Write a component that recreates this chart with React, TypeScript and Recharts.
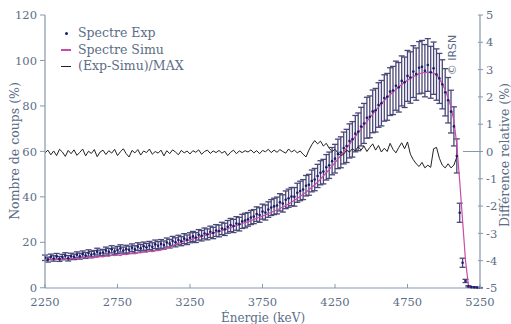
import React from "react";
import { ComposedChart, Line, XAxis, YAxis, ErrorBar } from "recharts";

// grille en énergie : 2250 keV, pas de 20 keV
const E_START = 2250;
const E_STEP = 20;

// spectre expérimental (%)
const EXP = [
  13.2, 12.4, 13.6, 12.9, 13.8, 12.7, 13.5, 14.1, 13.0, 13.9,
  13.6, 14.5, 13.9, 14.8, 14.2, 15.3, 14.6, 15.0, 15.9, 15.2,
  15.5, 16.4, 15.8, 16.9, 16.0, 16.6, 17.3, 16.4, 17.0, 16.7,
  17.6, 16.9, 18.1, 17.4, 18.3, 17.8, 18.6, 18.0, 19.1, 18.5,
  19.3, 18.8, 19.9, 19.4, 20.6, 20.0, 21.0, 20.5, 21.6, 21.1,
  22.0, 22.6, 22.1, 23.3, 22.9, 23.9, 23.5, 24.6, 24.1, 25.2,
  25.0, 26.1, 25.7, 26.8, 27.6, 27.2, 28.3, 28.0, 29.2, 29.6,
  30.1, 30.9, 31.3, 32.4, 32.0, 33.5, 33.1, 34.4, 35.3, 35.8,
  36.2, 37.6, 37.1, 38.7, 39.4, 40.1, 40.0, 41.8, 42.6, 43.2,
  44.9, 45.3, 47.0, 47.6, 49.2, 50.6, 51.1, 53.0, 53.9, 55.7,
  56.8, 58.9, 59.6, 61.5, 62.4, 64.6, 65.3, 67.8, 68.6, 70.9,
  72.3, 74.8, 75.2, 77.6, 78.1, 80.4, 81.2, 83.5, 84.0, 86.3,
  86.8, 88.9, 88.2, 91.0, 90.4, 93.2, 92.5, 95.1, 94.0, 96.8,
  97.2, 95.5, 98.0, 94.8, 96.6, 93.8, 92.1, 89.5, 86.0, 82.5,
  77.5, 71.0, 58.0, 33.0, 11.0, 3.0, 0.6, 0.3, 0.2, 0.1, 0.0,
];

// barres d'erreur (demi-largeur, %)
const EXP_ERR = [
  1.2, 1.1, 1.2, 1.2, 1.3, 1.1, 1.2, 1.3, 1.2, 1.3,
  1.2, 1.3, 1.3, 1.4, 1.3, 1.4, 1.4, 1.4, 1.5, 1.4,
  1.4, 1.5, 1.5, 1.6, 1.5, 1.6, 1.6, 1.5, 1.7, 1.6,
  1.7, 1.6, 1.7, 1.7, 1.8, 1.7, 1.8, 1.8, 1.9, 1.8,
  1.9, 1.8, 2.0, 1.9, 2.0, 2.0, 2.1, 2.0, 2.2, 2.1,
  2.2, 2.2, 2.2, 2.3, 2.3, 2.4, 2.4, 2.5, 2.5, 2.6,
  2.6, 2.7, 2.7, 2.8, 2.9, 2.9, 3.0, 3.0, 3.1, 3.2,
  3.0, 3.1, 3.1, 3.2, 3.2, 3.3, 3.3, 3.4, 3.5, 3.6,
  3.7, 3.8, 3.8, 3.9, 4.0, 4.0, 4.1, 4.2, 4.3, 4.4,
  4.5, 4.6, 4.8, 4.9, 5.1, 5.3, 5.4, 5.6, 5.8, 6.0,
  6.3, 6.5, 6.8, 7.0, 7.3, 7.5, 7.8, 8.0, 8.3, 8.5,
  8.8, 9.0, 9.2, 9.4, 9.6, 9.8, 10.0, 10.2, 10.3, 10.5,
  10.6, 10.8, 10.9, 11.0, 11.1, 11.2, 11.3, 11.4, 11.5, 11.5,
  11.6, 11.5, 11.6, 11.4, 11.5, 11.3, 11.0, 10.8, 10.4, 10.0,
  9.4, 8.6, 7.5, 4.2, 2.0, 0.7, 0.3, 0.2, 0.2, 0.1, 0.1,
];

// spectre simulé (%)
const SIMU = [
  12.6, 12.9, 12.3, 12.7, 12.5, 12.9, 12.4, 12.8, 12.6, 13.0,
  12.7, 13.1, 12.9, 13.4, 13.0, 13.5, 13.2, 13.6, 13.4, 13.8,
  13.6, 14.0, 13.8, 14.3, 14.1, 14.5, 14.2, 14.8, 14.6, 14.9,
  15.1, 14.9, 15.5, 15.3, 15.8, 15.6, 16.1, 15.9, 16.4, 16.3,
  16.6, 16.9, 17.5, 18.0, 18.4, 19.1, 19.5, 20.0, 20.6, 20.8,
  21.1, 21.5, 21.9, 22.2, 22.6, 23.0, 23.3, 23.8, 24.1, 24.5,
  24.7, 25.2, 25.5, 26.0, 26.5, 26.9, 27.4, 27.8, 28.3, 28.7,
  29.0, 29.6, 30.0, 30.6, 31.0, 31.6, 32.0, 32.7, 33.1, 33.8,
  34.2, 34.9, 35.5, 36.2, 36.9, 37.6, 38.5, 39.3, 40.2, 41.1,
  42.0, 43.1, 44.2, 45.3, 46.5, 47.8, 49.2, 50.6, 52.0, 53.5,
  55.0, 56.6, 58.2, 59.8, 61.5, 63.1, 64.8, 66.5, 68.2, 69.9,
  71.6, 73.2, 74.8, 76.4, 78.0, 79.5, 81.0, 82.3, 83.6, 84.9,
  86.1, 87.3, 88.4, 89.4, 90.4, 91.3, 92.1, 92.9, 93.5, 94.1,
  94.5, 94.8, 94.9, 94.8, 94.4, 93.8, 91.8, 89.8, 87.0, 83.5,
  79.5, 73.5, 63.0, 47.0, 29.5, 12.0, 1.2, 0.3, 0.0, 0.0, 0.0,
];

// (Exp-Simu)/MAX (%), axe de droite, s'arrête vers 5100 keV
const DIFF = [
  -0.05, 0.05, -0.12, 0.02, -0.15, 0.08, -0.02, -0.18, 0.04, -0.08,
  0.06, -0.14, -0.03, 0.09, -0.16, 0.01, -0.07, 0.07, -0.19, -0.02,
  0.05, -0.11, 0.03, -0.06, 0.08, -0.15, -0.01, 0.1, -0.08, -0.2,
  0.04, -0.05, 0.07, -0.13, 0.02, -0.04, 0.09, -0.1, 0.0, -0.06,
  0.05, -0.16, 0.03, -0.08, 0.06, -0.02, -0.12, 0.04, -0.05, 0.02,
  -0.09, 0.03, -0.03, 0.06, -0.1, 0.0, 0.05, -0.07, 0.02, -0.04,
  0.04, -0.06, 0.01, -0.15, -0.03, 0.05, -0.08, 0.02, -0.04, 0.03,
  -0.02, 0.06, -0.05, 0.03, -0.08, 0.04, -0.01, 0.08, -0.04, 0.05,
  -0.03, 0.07, 0.0, -0.06, 0.09, -0.02, 0.05, -0.05, 0.02, -0.1,
  -0.2, 0.05, 0.25, 0.4, 0.28, 0.38, 0.2, 0.3, 0.12, 0.0,
  0.08, -0.05, -0.15, -0.1, 0.05, -0.02, 0.1, 0.02, 0.18, 0.05,
  0.2, 0.0, 0.15, 0.28, 0.05, 0.22, -0.02, 0.12, 0.0, 0.3,
  0.08, -0.05, 0.15, 0.32, 0.1, 0.35, -0.1, -0.3, -0.45, -0.55,
  -0.4, -0.6, -0.5, -0.58, 0.1, 0.15, -0.25, -0.5, -0.6, -0.45,
  -0.6, -0.5, -0.2,
];

const X_TICKS = [2250, 2750, 3250, 3750, 4250, 4750, 5250];
const LEFT_TICKS = [0, 20, 40, 60, 80, 100, 120];
const RIGHT_TICKS = [-5, -4, -3, -2, -1, 0, 1, 2, 3, 4, 5];

const LEGEND = [
  { key: "exp", label: "Spectre Exp", color: "#1c1c6e", kind: "dot" },
  { key: "simu", label: "Spectre Simu", color: "#c94aa8", kind: "line" },
  { key: "diff", label: "(Exp-Simu)/MAX", color: "#222222", kind: "line" },
];

const TEXT = "#5b6d86";
const AXIS = "#8798ad";
const FONT = "'DejaVu Serif', serif";

const data = EXP.map((v, i) => ({
  e: E_START + i * E_STEP,
  exp: v,
  err: EXP_ERR[i],
  simu: SIMU[i],
  diff: i < DIFF.length ? DIFF[i] : null,
}));

const XTick = ({ x, y, payload }: any) => (
  <g>
    <line x1={x} x2={x} y1={y} y2={y - 4} stroke={AXIS} />
    <text x={x} y={y + 18} textAnchor="middle" fill={TEXT} fontSize={11.5} fontFamily={FONT}>
      {payload.value}
    </text>
  </g>
);

const LeftTick = ({ x, y, payload }: any) => (
  <g>
    <line x1={x - 5} x2={x} y1={y} y2={y} stroke={AXIS} />
    <text x={x - 8} y={y} dy="0.36em" textAnchor="end" fill={TEXT} fontSize={11.5} fontFamily={FONT}>
      {payload.value}
    </text>
  </g>
);

const RightTick = ({ x, y, payload }: any) => (
  <g>
    <line x1={payload.value === 0 ? x - 17 : x - 2} x2={x + 3} y1={y} y2={y} stroke={AXIS} />
    <text x={x + 6} y={y} dy="0.36em" textAnchor="start" fill={TEXT} fontSize={11.5} fontFamily={FONT}>
      {payload.value}
    </text>
  </g>
);

function LegendBox() {
  return (
    <div
      style={{
        position: "absolute",
        left: 58,
        top: 25,
        fontFamily: FONT,
        fontSize: 12.5,
        color: TEXT,
        lineHeight: "16.5px",
      }}
    >
      {LEGEND.map((l) => (
        <div key={l.key} style={{ display: "flex", alignItems: "center" }}>
          <span style={{ width: 16, display: "inline-flex", justifyContent: "center" }}>
            {l.kind === "dot" ? (
              <span style={{ width: 3, height: 3, borderRadius: 2, background: l.color }} />
            ) : (
              <span style={{ width: 10, height: 1.5, background: l.color }} />
            )}
          </span>
          <span style={{ marginLeft: 4 }}>{l.label}</span>
        </div>
      ))}
    </div>
  );
}

export default function App() {
  return (
    <div style={{ position: "absolute", left: 0, top: 0, width: 511, height: 324, background: "#fff" }}>
      <ComposedChart
        width={511}
        height={324}
        data={data}
        margin={{ top: 15, right: 0, bottom: 0, left: 0 }}
      >
        <XAxis
          dataKey="e"
          type="number"
          domain={[2250, 5250]}
          ticks={X_TICKS}
          allowDataOverflow
          height={36}
          tickSize={0}
          tickMargin={0}
          tickLine={false}
          interval={0}
          axisLine={{ stroke: AXIS, strokeWidth: 1.2 }}
          tick={<XTick />}
          label={() => (
            <text x={263} y={322} textAnchor="middle" fill={TEXT} fontSize={12} fontFamily={FONT}>
              Énergie (keV)
            </text>
          )}
        />
        <YAxis
          yAxisId="left"
          domain={[0, 120]}
          ticks={LEFT_TICKS}
          width={45}
          tickSize={0}
          tickMargin={0}
          tickLine={false}
          interval={0}
          axisLine={{ stroke: AXIS, strokeWidth: 1.2 }}
          tick={<LeftTick />}
          label={() => (
            <text
              transform="rotate(-90, 14, 151)"
              x={14}
              y={151}
              dy="0.36em"
              textAnchor="middle"
              fill={TEXT}
              fontSize={12.5}
              fontFamily={FONT}
            >
              Nombre de coups (%)
            </text>
          )}
        />
        <YAxis
          yAxisId="right"
          orientation="right"
          domain={[-5, 5]}
          ticks={RIGHT_TICKS}
          width={31}
          tickSize={0}
          tickMargin={0}
          tickLine={false}
          interval={0}
          axisLine={{ stroke: AXIS, strokeWidth: 1.2 }}
          tick={<RightTick />}
          label={() => (
            <g>
              <text
                transform="rotate(-90, 504, 155)"
                x={504}
                y={155}
                dy="0.36em"
                textAnchor="middle"
                fill={TEXT}
                fontSize={12.5}
                fontFamily={FONT}
              >
                Différence relative (%)
              </text>
              <text
                transform="rotate(-90, 452, 55)"
                x={452}
                y={55}
                dy="0.36em"
                textAnchor="middle"
                fill={TEXT}
                fontSize={11}
                fontFamily="'DejaVu Sans', sans-serif"
              >
                © IRSN
              </text>
            </g>
          )}
        />
        <Line
          yAxisId="left"
          dataKey="exp"
          stroke="none"
          dot={{ r: 1.3, fill: "#1c1c6e", stroke: "none" }}
          isAnimationActive={false}
        >
          <ErrorBar dataKey="err" width={3} stroke="#4a4878" strokeWidth={1.3} />
        </Line>
        <Line
          yAxisId="left"
          dataKey="simu"
          stroke="#c94aa8"
          strokeWidth={1.2}
          dot={false}
          isAnimationActive={false}
        />
        <Line
          yAxisId="right"
          dataKey="diff"
          stroke="#222222"
          strokeWidth={1}
          dot={false}
          connectNulls={false}
          isAnimationActive={false}
        />
      </ComposedChart>
      <LegendBox />
    </div>
  );
}
